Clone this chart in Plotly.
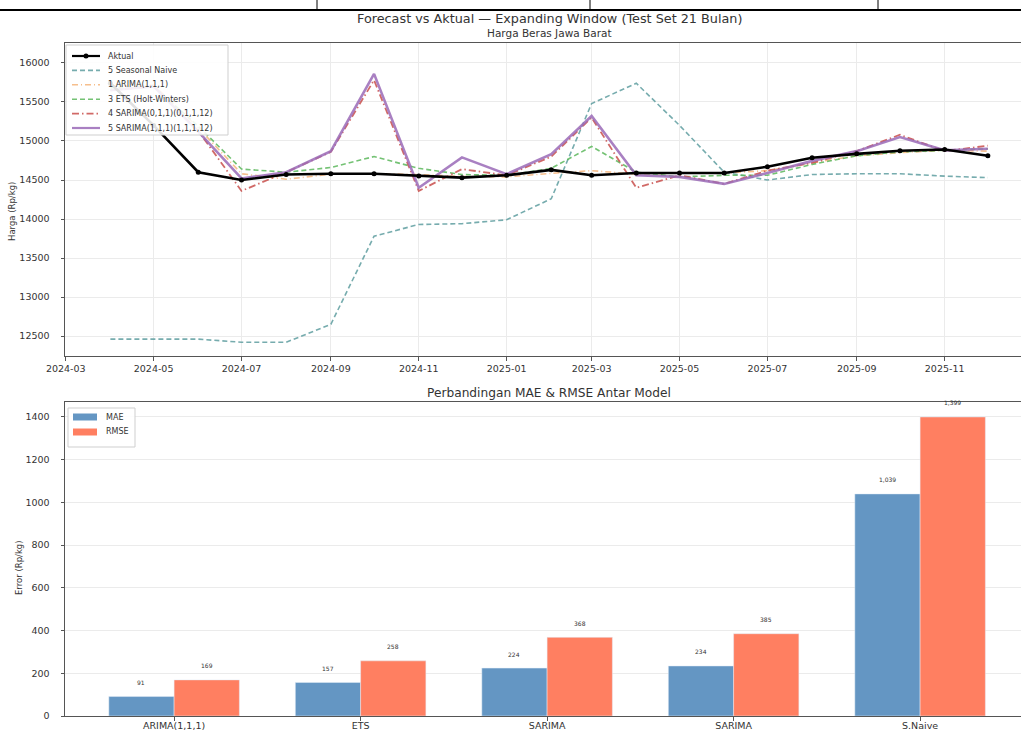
import plotly.graph_objects as go

# --- data -------------------------------------------------------------
months = ["2024-04-01", "2024-05-01", "2024-06-01", "2024-07-01", "2024-08-01",
          "2024-09-01", "2024-10-01", "2024-11-01", "2024-12-01", "2025-01-01",
          "2025-02-01", "2025-03-01", "2025-04-01", "2025-05-01", "2025-06-01",
          "2025-07-01", "2025-08-01", "2025-09-01", "2025-10-01", "2025-11-01",
          "2025-12-01"]

aktual = [15740, 15200, 14600, 14500, 14570, 14580, 14580, 14550, 14530, 14560,
          14630, 14560, 14590, 14590, 14590, 14670, 14785, 14835, 14875, 14890, 14810]

seasonal_naive = [12460, 12460, 12460, 12420, 12420, 12650, 13780, 13930, 13940, 13990,
                  14260, 15480, 15740, 15200, 14600, 14500, 14570, 14580, 14580, 14550, 14530]

arima = [15700, 15720, 15170, 14580, 14510, 14575, 14580, 14570, 14545, 14540,
         14585, 14620, 14575, 14590, 14590, 14620, 14720, 14810, 14850, 14880, 14870]

ets = [15680, 15700, 15190, 14640, 14600, 14660, 14800, 14650, 14570, 14560,
       14650, 14930, 14600, 14540, 14560, 14560, 14700, 14810, 14860, 14880, 14900]

sarima_a = [15650, 15700, 15130, 14360, 14600, 14860, 15780, 14360, 14640, 14560,
            14800, 15300, 14400, 14560, 14450, 14620, 14720, 14870, 15080, 14870, 14940]

sarima_b = [15650, 15700, 15120, 14520, 14600, 14870, 15860, 14400, 14790, 14575,
            14830, 15320, 14560, 14540, 14450, 14590, 14745, 14870, 15050, 14880, 14900]

models = ["ARIMA(1,1,1)", "ETS", "SARIMA", "SARIMA", "S.Naive"]
mae = [91, 157, 224, 234, 1039]
rmse = [169, 258, 368, 385, 1399]

# --- styling ----------------------------------------------------------
FONT = "DejaVu Sans"
TXT = "#333333"
GRID = "#ebebeb"
AX = "#555555"
W, H = 1021, 731
ML, MT, MB = 65, 43, 15
PLOT_W = W - ML
PLOT_H = H - MT - MB


def px_x(x):
    return (x - ML) / PLOT_W


def px_y(y):
    return 1 - (y - MT) / PLOT_H


series = [
    ("Aktual", aktual, dict(color="black", width=2.6), 1.0),
    ("5 Seasonal Naive", seasonal_naive, dict(color="#5f9ea0", width=1.6, dash="5px,3px"), 0.85),
    ("1 ARIMA(1,1,1)", arima, dict(color="#f5b47a", width=1.6, dash="6px,3px,1px,3px"), 0.85),
    ("3 ETS (Holt-Winters)", ets, dict(color="#5cb85c", width=1.6, dash="5px,3px"), 0.85),
    ("4 SARIMA(0,1,1)(0,1,1,12)", sarima_a, dict(color="#c9504d", width=1.8, dash="7px,3px,1.5px,3px"), 0.85),
    ("5 SARIMA(1,1,1)(1,1,1,12)", sarima_b, dict(color="#9b6bb8", width=2.6), 0.85),
]

fig = go.Figure()

# forecasts first, actual series drawn last so it sits on top
for name, vals, ln, op in series[1:]:
    fig.add_trace(go.Scatter(x=months, y=vals, name=name, mode="lines", line=ln,
                             opacity=op, showlegend=False, xaxis="x", yaxis="y"))
name0, vals0, ln0, _ = series[0]
fig.add_trace(go.Scatter(x=months, y=vals0, name=name0, mode="lines+markers", line=ln0,
                         marker=dict(size=5, color="black"), showlegend=False,
                         xaxis="x", yaxis="y"))

idx = list(range(len(models)))
bar_specs = [("MAE", mae, "#6496c3"), ("RMSE", rmse, "#ff7f61")]
for name, vals, col in bar_specs:
    fig.add_trace(go.Bar(x=idx, y=vals, name=name, marker=dict(color=col),
                         showlegend=False, xaxis="x2", yaxis="y2"))

annotations = []
for i, (a, b) in enumerate(zip(mae, rmse)):
    for xv, v in ((i - 0.175, a), (i + 0.175, b)):
        annotations.append(dict(x=xv, y=v, xref="x2", yref="y2", text=f"{v:,}",
                                showarrow=False, yshift=14, yanchor="middle",
                                font=dict(size=6, color=TXT, family=FONT)))


def txt(text, x, y, size, **kw):
    d = dict(text=text, x=px_x(x), y=px_y(y), xref="paper", yref="paper",
             xanchor="center", yanchor="middle",
             showarrow=False, font=dict(size=size, color=TXT, family=FONT))
    d.update(kw)
    return d


annotations += [
    txt("Forecast vs Aktual — Expanding Window (Test Set 21 Bulan)", 549, 19, 12.8),
    txt("Harga Beras Jawa Barat", 549, 33, 10.5),
    txt("Perbandingan MAE & RMSE Antar Model", 549, 393, 12.2),
    txt("Harga (Rp/kg)", 12, 212, 8.5, textangle=-90),
    txt("Error (Rp/kg)", 19, 568, 8.5, textangle=-90),
]

shapes = []

# header rule above the figure
shapes.append(dict(type="line", xref="paper", yref="paper", x0=px_x(0), x1=px_x(W),
                   y0=px_y(10), y1=px_y(10), line=dict(color="black", width=2)))
for xv in (317, 590, 878):
    shapes.append(dict(type="line", xref="paper", yref="paper", x0=px_x(xv), x1=px_x(xv),
                       y0=px_y(0), y1=px_y(10), line=dict(color="black", width=1)))


def legend_box(x0, y0, x1, y1):
    shapes.append(dict(type="rect", xref="paper", yref="paper", layer="above",
                       x0=px_x(x0), x1=px_x(x1), y0=px_y(y1), y1=px_y(y0),
                       fillcolor="rgba(255,255,255,0.88)",
                       line=dict(color="#cfcfcf", width=1)))


# legend of the line chart
legend_box(66, 45, 228, 135)
for k, (name, vals, ln, op) in enumerate(series):
    yc = 56 + k * 14.4
    sl = dict(color=ln["color"], width=min(ln["width"], 2.2))
    if "dash" in ln:
        sl["dash"] = ln["dash"]
    shapes.append(dict(type="line", xref="paper", yref="paper", layer="above",
                       x0=px_x(72), x1=px_x(100), y0=px_y(yc), y1=px_y(yc), line=sl,
                       opacity=op))
    if name == "Aktual":
        shapes.append(dict(type="circle", xref="paper", yref="paper", layer="above",
                           x0=px_x(83.5), x1=px_x(88.5), y0=px_y(yc + 2.5),
                           y1=px_y(yc - 2.5), fillcolor="black",
                           line=dict(color="black", width=0)))
    annotations.append(txt(name, 106, yc, 8, xanchor="left"))

# legend of the bar chart
legend_box(68, 408, 135, 447)
for k, (name, vals, col) in enumerate(bar_specs):
    yc = 417 + k * 15
    shapes.append(dict(type="rect", xref="paper", yref="paper", layer="above",
                       x0=px_x(73), x1=px_x(97), y0=px_y(yc + 3.5), y1=px_y(yc - 3.5),
                       fillcolor=col, line=dict(width=0)))
    annotations.append(txt(name, 104, yc, 8, xanchor="left"))

axis_common = dict(showline=True, linecolor=AX, linewidth=1, ticks="outside",
                   ticklen=3.5, tickcolor=AX, automargin=False,
                   tickfont=dict(size=9.5, color=TXT, family=FONT), zeroline=False)

fig.update_layout(
    width=W, height=H,
    margin=dict(l=ML, r=0, t=MT, b=MB, autoexpand=False),
    paper_bgcolor="white", plot_bgcolor="white",
    font=dict(family=FONT, color=TXT),
    barmode="group", bargap=0.3, bargroupgap=0,
    showlegend=False,
    xaxis=dict(domain=[0, 1], anchor="y", type="date",
               range=["2024-02-29 12:00", "2025-12-24"],
               tick0="2024-03-01", dtick="M2", tickformat="%Y-%m",
               showgrid=True, gridcolor=GRID, mirror=True, **axis_common),
    yaxis=dict(domain=[px_y(356), 1], anchor="x", range=[12244, 16256],
               dtick=500, tickformat="d", showgrid=True, gridcolor=GRID,
               ticklabelstandoff=9, **axis_common),
    xaxis2=dict(domain=[0, 1], anchor="y2", range=[-0.585, 4.541],
                tickvals=idx, ticktext=models, showgrid=False, mirror=True,
                ticklabelstandoff=-3, **axis_common),
    yaxis2=dict(domain=[0, px_y(402)], anchor="x2", range=[0, 1469], dtick=200,
                showgrid=True, gridcolor=GRID, ticklabelstandoff=9, **axis_common),
    annotations=annotations,
    shapes=shapes,
)

fig.write_html("out.html")
